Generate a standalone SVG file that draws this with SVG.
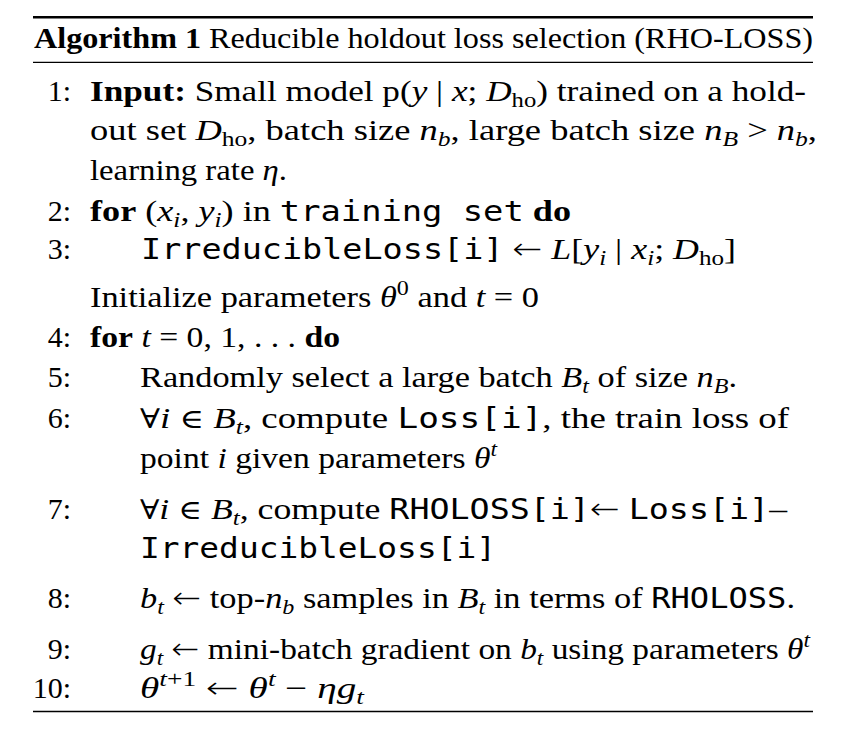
<svg xmlns="http://www.w3.org/2000/svg" width="841" height="746" viewBox="0 0 841 746">
<style>
.t{font-family:"Liberation Serif",serif;font-size:30px;fill:#000}
.b{font-weight:bold}
.i{font-style:italic}
.m{font-family:"DejaVu Sans Mono",monospace;font-size:28px}
.s{font-size:21px}
.sym{font-family:"DejaVu Serif",serif;font-size:27px}
.ar{font-family:"DejaVu Sans",sans-serif;font-size:30px;font-style:normal;font-weight:200}
.n{font-family:"Liberation Serif",serif;font-size:30px;fill:#000;text-anchor:end}
.rule{stroke:#000;fill:none}
</style>
<rect width="841" height="746" fill="#fff"/>
<g id="rules">
<line class="rule" x1="33" y1="17.3" x2="813" y2="17.3" stroke-width="2.6"/>
<line class="rule" x1="33" y1="62.3" x2="813" y2="62.3" stroke-width="1.3"/>
<line class="rule" x1="33" y1="711.5" x2="813" y2="711.5" stroke-width="1.3"/>
</g>
<g id="header">
<text class="t" x="34" y="48" textLength="779" lengthAdjust="spacingAndGlyphs"><tspan class="b">Algorithm 1</tspan> Reducible holdout loss selection (RHO-LOSS)</text>
</g>
<g id="numbers">
<text class="n" x="71" y="101">1:</text>
<text class="n" x="71" y="221">2:</text>
<text class="n" x="71" y="259">3:</text>
<text class="n" x="71" y="347">4:</text>
<text class="n" x="71" y="387">5:</text>
<text class="n" x="71" y="428">6:</text>
<text class="n" x="71" y="519">7:</text>
<text class="n" x="71" y="608">8:</text>
<text class="n" x="71" y="659">9:</text>
<text class="n" x="71" y="698">10:</text>
</g>
<g id="body">
<text class="t" x="90" y="101" textLength="716" lengthAdjust="spacingAndGlyphs"><tspan class="b">Input:</tspan>  Small model p(<tspan class="i">y</tspan> | <tspan class="i">x</tspan>; <tspan class="i">D</tspan><tspan class="s" dy="6">ho</tspan><tspan dy="-6">) trained on a hold-</tspan></text>
<text class="t" x="90" y="140" textLength="727" lengthAdjust="spacingAndGlyphs">out set <tspan class="i">D</tspan><tspan class="s" dy="6">ho</tspan><tspan dy="-6">, batch size </tspan><tspan class="i">n</tspan><tspan class="s i" dy="6">b</tspan><tspan dy="-6">, large batch size </tspan><tspan class="i">n</tspan><tspan class="s i" dy="6">B</tspan><tspan dy="-6"> &gt; </tspan><tspan class="i">n</tspan><tspan class="s i" dy="6">b</tspan><tspan dy="-6">,</tspan></text>
<text class="t" x="90" y="180" textLength="197" lengthAdjust="spacingAndGlyphs">learning rate <tspan class="i">η</tspan>.</text>
<text class="t" x="90" y="221" textLength="481" lengthAdjust="spacingAndGlyphs"><tspan class="b">for</tspan> (<tspan class="i">x</tspan><tspan class="s i" dy="6">i</tspan><tspan dy="-6">, </tspan><tspan class="i">y</tspan><tspan class="s i" dy="6">i</tspan><tspan dy="-6">) in </tspan><tspan class="m">training set</tspan> <tspan class="b">do</tspan></text>
<text class="t" x="141" y="259" textLength="595" lengthAdjust="spacingAndGlyphs"><tspan class="m">IrreducibleLoss[i]</tspan> <tspan class="ar">←</tspan> <tspan class="i">L</tspan>[<tspan class="i">y</tspan><tspan class="s i" dy="6">i</tspan><tspan dy="-6"> | </tspan><tspan class="i">x</tspan><tspan class="s i" dy="6">i</tspan><tspan dy="-6">; </tspan><tspan class="i">D</tspan><tspan class="s" dy="6">ho</tspan><tspan dy="-6">]</tspan></text>
<text class="t" x="90" y="307" textLength="449" lengthAdjust="spacingAndGlyphs">Initialize parameters <tspan class="i">θ</tspan><tspan class="s" dy="-12">0</tspan><tspan dy="12"> and </tspan><tspan class="i">t</tspan> = 0</text>
<text class="t" x="90" y="347" textLength="250" lengthAdjust="spacingAndGlyphs"><tspan class="b">for</tspan> <tspan class="i">t</tspan> = 0, 1, . . . <tspan class="b">do</tspan></text>
<text class="t" x="140" y="387" textLength="597" lengthAdjust="spacingAndGlyphs">Randomly select a large batch <tspan class="i">B</tspan><tspan class="s i" dy="6">t</tspan><tspan dy="-6"> of size </tspan><tspan class="i">n</tspan><tspan class="s i" dy="6">B</tspan><tspan dy="-6">.</tspan></text>
<text class="t" x="140" y="428" textLength="649" lengthAdjust="spacingAndGlyphs"><tspan class="sym">∀</tspan><tspan class="i">i</tspan> <tspan class="sym">∈</tspan> <tspan class="i">B</tspan><tspan class="s i" dy="6">t</tspan><tspan dy="-6">, compute </tspan><tspan class="m">Loss[i]</tspan>, the train loss of</text>
<text class="t" x="140" y="468" textLength="357" lengthAdjust="spacingAndGlyphs">point <tspan class="i">i</tspan> given parameters <tspan class="i">θ</tspan><tspan class="s i" dy="-12">t</tspan></text>
<text class="t" x="140" y="519" textLength="647" lengthAdjust="spacingAndGlyphs"><tspan class="sym">∀</tspan><tspan class="i">i</tspan> <tspan class="sym">∈</tspan> <tspan class="i">B</tspan><tspan class="s i" dy="6">t</tspan><tspan dy="-6">, compute </tspan><tspan class="m">RHOLOSS[i]</tspan><tspan class="ar">←</tspan> <tspan class="m">Loss[i]</tspan>–</text>
<text class="t" x="140" y="558" textLength="356" lengthAdjust="spacingAndGlyphs"><tspan class="m">IrreducibleLoss[i]</tspan></text>
<text class="t" x="140" y="608" textLength="655" lengthAdjust="spacingAndGlyphs"><tspan class="i">b</tspan><tspan class="s i" dy="6">t</tspan><tspan dy="-6"> </tspan><tspan class="ar">←</tspan> top-<tspan class="i">n</tspan><tspan class="s i" dy="6">b</tspan><tspan dy="-6"> samples in </tspan><tspan class="i">B</tspan><tspan class="s i" dy="6">t</tspan><tspan dy="-6"> in terms of </tspan><tspan class="m">RHOLOSS</tspan>.</text>
<text class="t" x="140" y="659" textLength="670" lengthAdjust="spacingAndGlyphs"><tspan class="i">g</tspan><tspan class="s i" dy="6">t</tspan><tspan dy="-6"> </tspan><tspan class="ar">←</tspan> mini-batch gradient on <tspan class="i">b</tspan><tspan class="s i" dy="6">t</tspan><tspan dy="-6"> using parameters </tspan><tspan class="i">θ</tspan><tspan class="s i" dy="-12">t</tspan></text>
<text class="t" x="140" y="698" textLength="224" lengthAdjust="spacingAndGlyphs"><tspan class="i">θ</tspan><tspan class="s" dy="-12"><tspan class="i">t</tspan>+1</tspan><tspan dy="12"> </tspan><tspan class="ar">←</tspan> <tspan class="i">θ</tspan><tspan class="s i" dy="-12">t</tspan><tspan dy="12"> − </tspan><tspan class="i">ηg</tspan><tspan class="s i" dy="6">t</tspan></text>
</g>
</svg>
